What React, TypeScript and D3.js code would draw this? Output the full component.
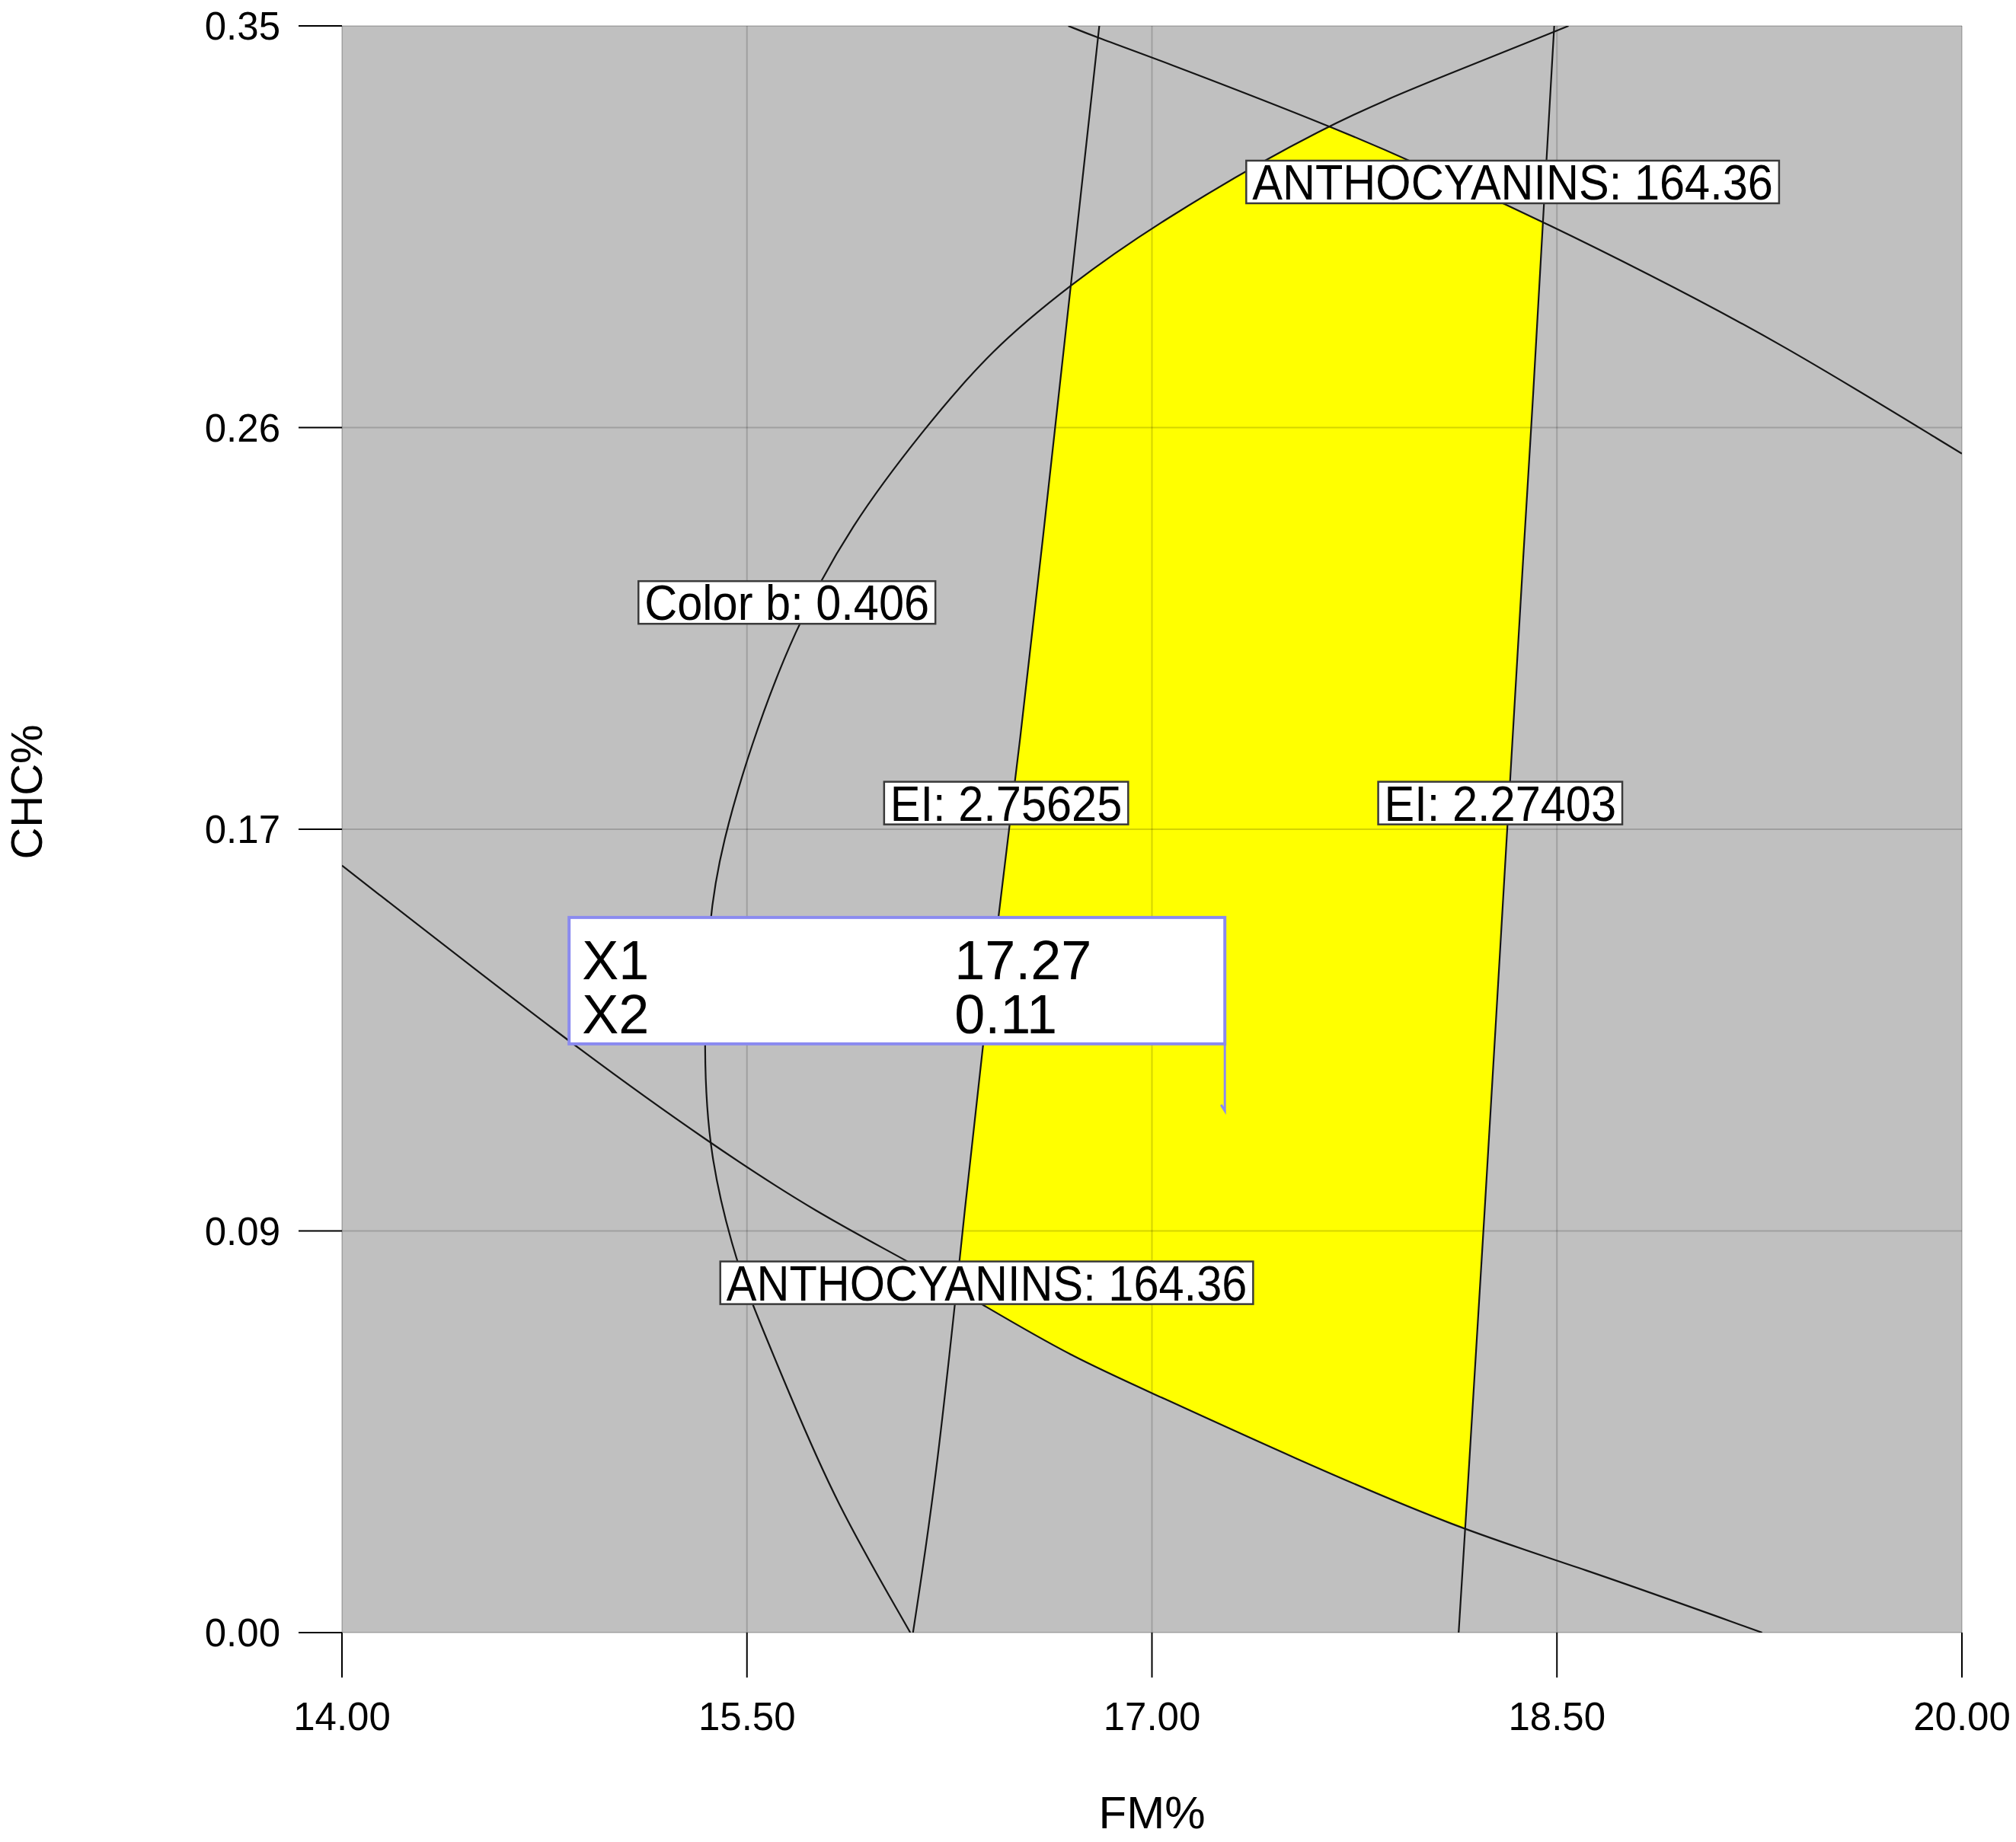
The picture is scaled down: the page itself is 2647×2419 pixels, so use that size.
import * as d3 from 'd3';
import React, { useEffect, useRef } from 'react';

const xTickValues = [14, 15.5, 17, 18.5, 20];
const xTickLabels = ['14.00', '15.50', '17.00', '18.50', '20.00'];
const yTickValues = [0, 0.0875, 0.175, 0.2625, 0.35];
const yTickLabels = ['0.00', '0.09', '0.17', '0.26', '0.35'];

// contour traces, as [FM%, CHC%]
const colorBContour = [
    [18.543, 0.35], [18.095, 0.3394], [17.643, 0.3286], [17.005, 0.3066],
    [16.7, 0.2937], [16.405, 0.2795], [16.15, 0.2618], [15.886, 0.2414],
    [15.671, 0.2181], [15.51, 0.1926], [15.41, 0.1722], [15.357, 0.1557],
    [15.338, 0.126], [15.362, 0.1036], [15.448, 0.0834], [15.51, 0.0728],
    [15.657, 0.0521], [15.824, 0.0288], [16.105, 0]
];
const eiHighContour = [
    [16.805, 0.35], [16.7, 0.2937], [16.5, 0.1868], [16.371, 0.1282],
    [16.29, 0.0823], [16.2, 0.0328], [16.115, 0]
];
const eiLowContour = [
    [18.49, 0.35], [18.448, 0.3074], [18.412, 0.2691], [18.38, 0.2394],
    [18.314, 0.173], [18.229, 0.0882], [18.16, 0.0224], [18.136, 0]
];
const anthUpperContour = [
    [16.69, 0.35], [16.8, 0.3474], [17.0, 0.3432], [17.643, 0.3286],
    [17.952, 0.3208], [18.448, 0.3074], [18.824, 0.2964], [19.31, 0.2816],
    [20.0, 0.2568]
];
const anthLowerContour = [
    [14.0, 0.1671], [14.843, 0.1284], [15.369, 0.1063], [15.762, 0.0913],
    [16.114, 0.0804], [16.376, 0.0713], [16.705, 0.06], [17.019, 0.0517],
    [17.51, 0.0384], [18.143, 0.0224], [18.562, 0.0147], [19.26, 0]
];

const contourLabels = [
    { text: 'ANTHOCYANINS: 164.36', x: 18.336, y: 0.316 },
    { text: 'Color b: 0.406', x: 15.648, y: 0.2244 },
    { text: 'EI: 2.75625', x: 16.46, y: 0.1807 },
    { text: 'EI: 2.27403', x: 18.29, y: 0.1807 },
    { text: 'ANTHOCYANINS: 164.36', x: 16.388, y: 0.0762 }
];

const optimumPoint = { x: 17.27, y: 0.11 };
const optimumRows = [['X1', '17.27'], ['X2', '0.11']];

const FONT = 'Liberation Sans, Arial, sans-serif';

const App = () => {
    const svgRef = useRef(null);

    useEffect(() => {
        document.body.style.margin = '0';
        const width = 2647;
        const height = 2419;
        const margin = { left: 449, right: 71, top: 34, bottom: 275 };
        const svg = d3.select(svgRef.current);
        svg.selectAll('*').remove();

        const x = d3.scaleLinear().domain([14, 20]).range([margin.left, width - margin.right]);
        const y = d3.scaleLinear().domain([0, 0.35]).range([height - margin.bottom, margin.top]);
        const [x0, x1] = x.range();
        const [y0, y1] = y.range();

        const line = d3.line()
            .x(d => x(d[0]))
            .y(d => y(d[1]))
            .curve(d3.curveBasis);

        const region = (pts, corners) =>
            line(pts) + corners.map(c => 'L' + x(c[0]) + ',' + y(c[1])).join('') + 'Z';

        const defs = svg.append('defs');
        const clips = [
            ['clip-colorb', region(colorBContour, [[20, 0], [20, 0.35]])],
            ['clip-eihigh', region(eiHighContour, [[20, 0], [20, 0.35]])],
            ['clip-eilow', region(eiLowContour, [[14, 0], [14, 0.35]])],
            ['clip-anthup', region(anthUpperContour, [[20, 0], [14, 0], [14, 0.35]])],
            ['clip-anthlow', region(anthLowerContour, [[20, 0], [20, 0.35], [14, 0.35]])]
        ];
        clips.forEach(([id, d]) => {
            defs.append('clipPath').attr('id', id).append('path').attr('d', d);
        });
        defs.append('clipPath').attr('id', 'clip-plot')
            .append('rect')
            .attr('x', x0).attr('y', y1)
            .attr('width', x1 - x0).attr('height', y0 - y1);

        // plot background
        svg.append('rect')
            .attr('x', x0).attr('y', y1)
            .attr('width', x1 - x0).attr('height', y0 - y1)
            .attr('fill', '#c0c0c0');

        // feasible (yellow) region = intersection of all contour sides
        let g = svg.append('g');
        clips.forEach(([id]) => {
            g = g.append('g').attr('clip-path', 'url(#' + id + ')');
        });
        g.append('rect')
            .attr('x', x0).attr('y', y1)
            .attr('width', x1 - x0).attr('height', y0 - y1)
            .attr('fill', '#ffff00');

        // grid
        const grid = svg.append('g').attr('stroke', 'rgba(0,0,0,0.17)').attr('stroke-width', 2);
        xTickValues.forEach(v => {
            grid.append('line').attr('x1', x(v)).attr('x2', x(v)).attr('y1', y0).attr('y2', y1);
        });
        yTickValues.forEach(v => {
            grid.append('line').attr('x1', x0).attr('x2', x1).attr('y1', y(v)).attr('y2', y(v));
        });

        // contour lines
        const lines = svg.append('g').attr('clip-path', 'url(#clip-plot)');
        [colorBContour, eiHighContour, eiLowContour, anthUpperContour, anthLowerContour].forEach(pts => {
            lines.append('path')
                .attr('d', line(pts))
                .attr('fill', 'none')
                .attr('stroke', '#151515')
                .attr('stroke-width', 2.2);
        });

        // contour labels
        contourLabels.forEach(d => {
            const lg = svg.append('g').attr('transform', 'translate(' + x(d.x) + ',' + y(d.y) + ')');
            const rect = lg.append('rect');
            const t = lg.append('text')
                .attr('text-anchor', 'middle')
                .attr('y', 23)
                .attr('font-family', FONT)
                .attr('font-size', 64)
                .attr('fill', '#000')
                .text(d.text);
            const tw = t.node().getComputedTextLength() * 0.93;
            t.attr('textLength', tw).attr('lengthAdjust', 'spacingAndGlyphs');
            const w = tw + 16;
            rect.attr('x', -w / 2).attr('y', -28)
                .attr('width', w).attr('height', 56)
                .attr('fill', '#fff')
                .attr('stroke', '#3a3a3a')
                .attr('stroke-width', 2.5);
        });

        // optimum flag
        const px = x(optimumPoint.x);
        const py = y(optimumPoint.y);
        const boxW = 861;
        const boxH = 166;
        const boxTop = py - 110 - boxH;
        const boxLeft = px - boxW;
        const flag = svg.append('g');
        flag.append('path')
            .attr('d', 'M' + px + ',' + (py - 110) + 'V' + (py - 22) + 'l-5,-8')
            .attr('fill', 'none')
            .attr('stroke', '#8a8af0')
            .attr('stroke-width', 3);
        flag.append('rect')
            .attr('x', boxLeft).attr('y', boxTop)
            .attr('width', boxW).attr('height', boxH)
            .attr('fill', '#fff')
            .attr('stroke', '#8a8af0')
            .attr('stroke-width', 4);
        optimumRows.forEach((row, i) => {
            flag.append('text')
                .attr('x', boxLeft + 17).attr('y', boxTop + 81 + i * 71)
                .attr('font-family', FONT).attr('font-size', 72)
                .text(row[0]);
            flag.append('text')
                .attr('x', boxLeft + 506).attr('y', boxTop + 81 + i * 71)
                .attr('font-family', FONT).attr('font-size', 72)
                .text(row[1]);
        });

        // axes ticks and labels
        const axes = svg.append('g');
        xTickValues.forEach((v, i) => {
            axes.append('line')
                .attr('x1', x(v)).attr('x2', x(v)).attr('y1', y0).attr('y2', y0 + 59)
                .attr('stroke', '#000').attr('stroke-width', 2);
            axes.append('text')
                .attr('x', x(v)).attr('y', y0 + 128)
                .attr('text-anchor', 'middle')
                .attr('font-family', FONT).attr('font-size', 51)
                .text(xTickLabels[i]);
        });
        yTickValues.forEach((v, i) => {
            axes.append('line')
                .attr('x1', x0 - 57).attr('x2', x0).attr('y1', y(v)).attr('y2', y(v))
                .attr('stroke', '#000').attr('stroke-width', 2);
            axes.append('text')
                .attr('x', x0 - 81).attr('y', y(v) + 18)
                .attr('text-anchor', 'end')
                .attr('font-family', FONT).attr('font-size', 51)
                .text(yTickLabels[i]);
        });

        axes.append('text')
            .attr('x', (x0 + x1) / 2).attr('y', 2401)
            .attr('text-anchor', 'middle')
            .attr('font-family', FONT).attr('font-size', 60)
            .text('FM%');
        axes.append('text')
            .attr('transform', 'translate(55,1040) rotate(-90)')
            .attr('text-anchor', 'middle')
            .attr('font-family', FONT).attr('font-size', 58)
            .text('CHC%');
    }, []);

    return <svg ref={svgRef} width={2647} height={2419} style={{ display: 'block', background: '#fff' }} />;
};

export default App;
